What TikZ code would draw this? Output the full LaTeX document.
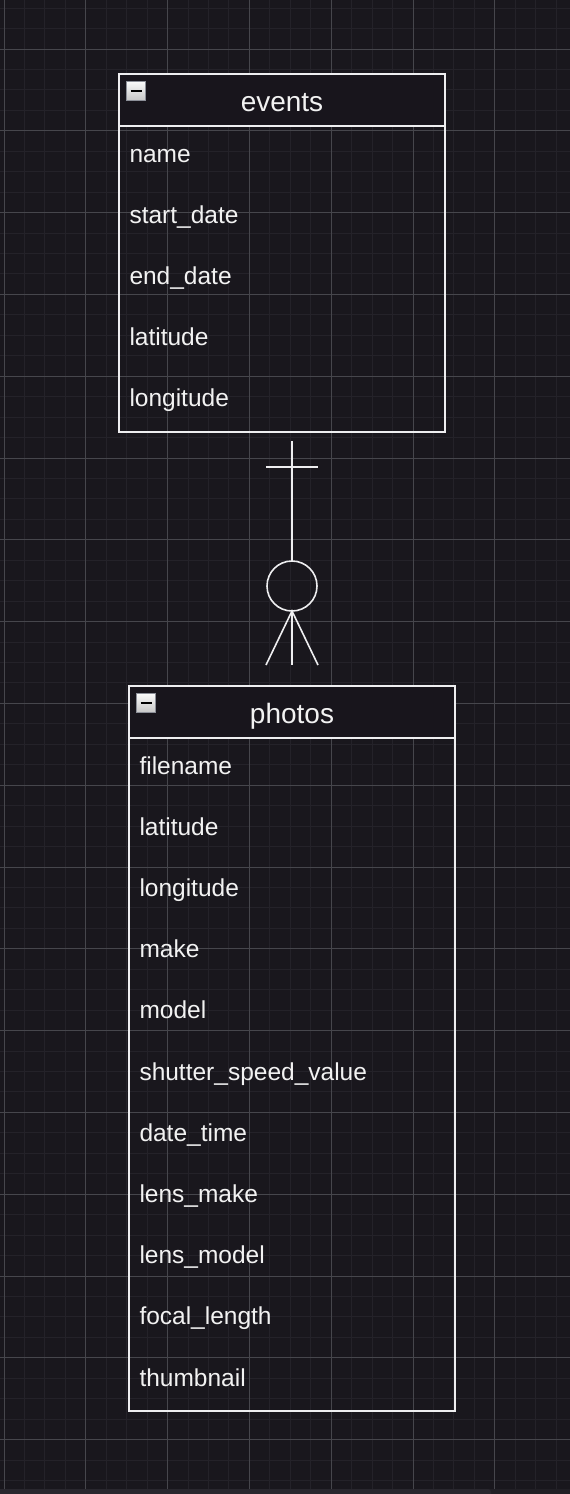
\documentclass[tikz,border=0pt]{standalone}
\usepackage{fontspec}
\setmainfont{Liberation Sans}
\usetikzlibrary{positioning, calc}
\definecolor{canvasbg}{RGB}{25,23,29}
\definecolor{minorgrid}{RGB}{36,34,41}
\definecolor{majorgrid}{RGB}{70,70,76}
\definecolor{headfill}{RGB}{24,21,28}
\definecolor{boxwhite}{RGB}{238,238,240}
\definecolor{textwhite}{RGB}{242,242,242}
\definecolor{iconedge}{RGB}{140,143,152}
\definecolor{scrollbar}{RGB}{41,39,46}
\definecolor{scrolltrack}{RGB}{33,31,37}

\begin{document}
\begin{tikzpicture}[
    x=1pt, y=-1pt,
    every node/.style={inner sep=0pt, outer sep=0pt},
    tablebox/.style={draw=boxwhite, line width=2pt, minimum width=326pt},
    tablehead/.style={tablebox, fill=headfill, minimum height=52pt,
        text height=22pt, text depth=0pt,
        font=\fontsize{28}{32}\selectfont, text=textwhite},
    field/.style={anchor=base west, font=\fontsize{24.5}{28}\selectfont, text=textwhite},
    minusicon/.style={draw=iconedge, line width=1.2pt, minimum size=19pt,
        top color=white!96!gray, bottom color=gray!45,
        path picture={\draw[black, line width=2pt]
            ($(path picture bounding box.center)+(-5.5,0)$) --
            ($(path picture bounding box.center)+(5.5,0)$);}},
    relline/.style={draw=boxwhite, line width=1.6pt}
]
% canvas and grid
\useasboundingbox (0,0) rectangle (570,1494);
\fill[canvasbg] (0,0) rectangle (570,1494);
\foreach \k in {0,...,27}
    \draw[minorgrid, line width=1pt] ({4+20.45*\k},0) -- ({4+20.45*\k},1494);
\foreach \k in {-2,...,70}
    \draw[minorgrid, line width=1pt] (0,{49+20.45*\k}) -- (570,{49+20.45*\k});
\foreach \k in {0,...,6}
    \draw[majorgrid, line width=1pt] ({4+81.8*\k},0) -- ({4+81.8*\k},1494);
\foreach \k in {0,...,17}
    \draw[majorgrid, line width=1pt] (0,{49+81.8*\k}) -- (570,{49+81.8*\k});
\fill[scrolltrack] (0,1489) rectangle (570,1494);
\fill[scrollbar, rounded corners=3pt] (-4,1489) rectangle (491,1498);

% events table
\node[tablehead] (eventsHead) at (282,100) {events};
\node[tablebox, minimum height=306pt, below=0pt of eventsHead] (events) {};
\node[minusicon] (eventsIcon) at ($(eventsHead.north west)+(17,17)$) {};
\foreach \f [count=\i from 0] in {name, start\_date, end\_date, latitude, longitude}
    \node[field] (ev-\i) at ($(events.north west)+(10.5,{36+61.2*\i})$) {\f};

% photos table
\node[tablehead] (photosHead) at (292,712) {photos};
\node[tablebox, minimum height=673pt, below=0pt of photosHead] (photos) {};
\node[minusicon] (photosIcon) at ($(photosHead.north west)+(17,17)$) {};
\foreach \f [count=\i from 0] in {filename, latitude, longitude, make, model,
        shutter\_speed\_value, date\_time, lens\_make, lens\_model,
        focal\_length, thumbnail}
    \node[field] (ph-\i) at ($(photos.north west)+(10.5,{36+61.2*\i})$) {\f};

% one events to zero-or-many photos
\coordinate (oneEnd) at ($(photosHead.north)+(0,-245)$);
\coordinate (manyEnd) at ($(photosHead.north)+(0,-21)$);
\node[circle, draw=boxwhite, line width=1.6pt, minimum size=50pt] (zeroMark)
    at ($(manyEnd)+(0,-79)$) {};
\draw[relline] (oneEnd) -- (zeroMark.north);
\draw[relline] ($(oneEnd)+(-26,26)$) -- ($(oneEnd)+(26,26)$);
\draw[relline] (zeroMark.south) -- (manyEnd);
\draw[relline] ($(manyEnd)+(-26,0)$) -- (zeroMark.south) -- ($(manyEnd)+(26,0)$);
\end{tikzpicture}
\end{document}
